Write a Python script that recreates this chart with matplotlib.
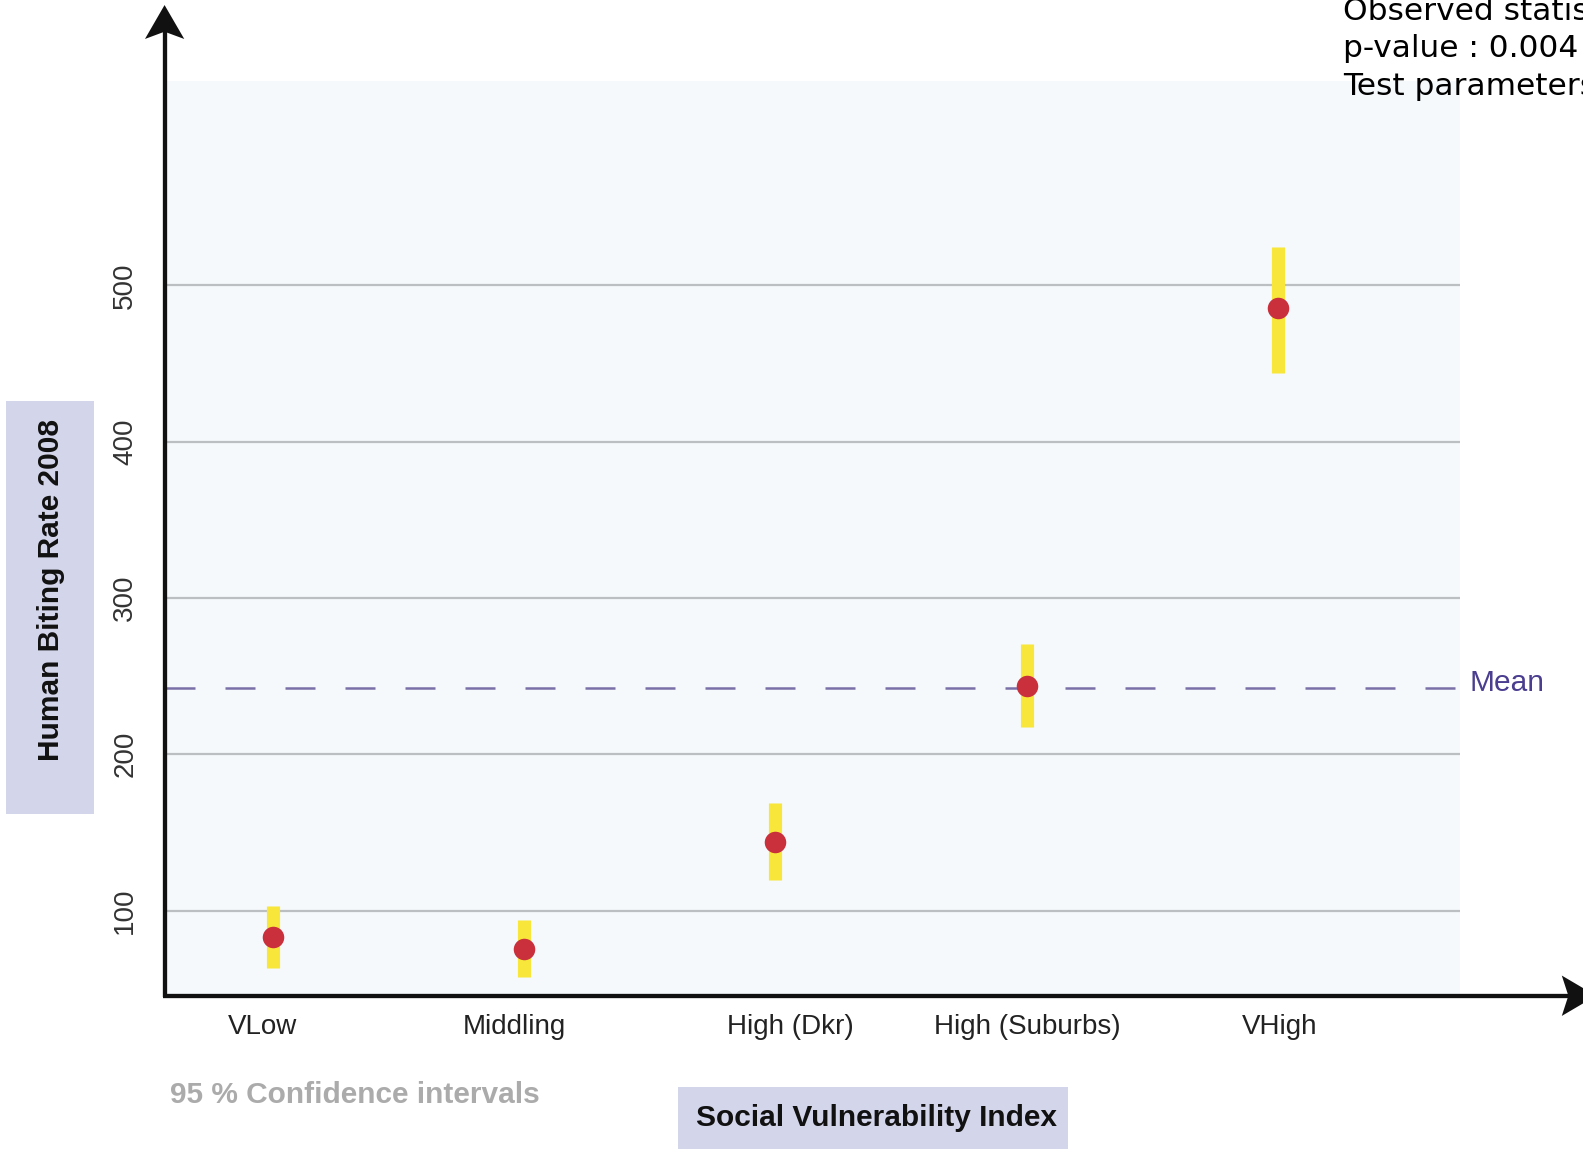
import matplotlib
matplotlib.use("Agg")
import matplotlib.pyplot as plt
import matplotlib.transforms as mtransforms
from matplotlib.patches import Rectangle, Polygon

plt.rcParams["font.family"] = ["Liberation Sans", "DejaVu Sans"]

# ---------------------------------------------------------------- data
categories = ["VLow", "Middling", "High (Dkr)", "High (Suburbs)", "VHigh"]
means = [83.3, 75.5, 143.9, 244.0, 485.7]
ci_low = [63.3, 57.4, 119.4, 217.5, 443.7]
ci_high = [103.2, 94.2, 169.1, 270.5, 524.3]
overall_mean = 242.7
yticks = [100, 200, 300, 400, 500]
stats_lines = ["Observed statistic", "p-value : 0.004", "Test parameters"]

# design units (the figure is 1583 x 1149 px, design canvas 1568 x 1138)
W, H = 1568.0, 1138.1
fig = plt.figure(figsize=(15.83, 11.49), dpi=100)

# ---------------------------------------------------------------- main axes
AX_L, AX_R, AX_T, AX_B = 163.0, 1580.0, 5.0, 986.3
ax = fig.add_axes([AX_L / W, 1 - AX_B / H, (AX_R - AX_L) / W, (AX_B - AX_T) / H])
ax.set_facecolor("none")
px_per_unit = 1.5485
YB = 100 - (AX_B - 902.0) / px_per_unit
YT = 100 + (902.0 - AX_T) / px_per_unit
BG_T = 100 + (902.0 - 80.0) / px_per_unit
dx = 248.8
XL = (AX_L - 270.4) / dx
XR = (AX_R - 270.4) / dx
BG_R = (1446.0 - 270.4) / dx
ax.set_xlim(XL, XR)
ax.set_ylim(YB, YT)
for s in ax.spines.values():
    s.set_visible(False)

ax.add_patch(Rectangle((XL, YB), BG_R - XL, BG_T - YB, color="#f5f9fc",
                       lw=0, zorder=0))
ax.hlines(yticks, XL, BG_R, color="#bcbfc2", lw=1.6, zorder=1)
ax.hlines(overall_mean, XL, BG_R, color="#7a70a8", lw=1.8,
          linestyles=(0, (12, 12)), zorder=2)
ax.text(BG_R + 0.04, overall_mean + 3, "Mean", fontsize=21.5, color="#4b3d8f",
        ha="left", va="center")

x = list(range(len(categories)))
ax.vlines(x, ci_low, ci_high, color="#f8e63a", lw=9.5, zorder=3,
          capstyle="butt")
ax.plot(x, means, "o", color="#c9303c", ms=15.5, mec="none", zorder=4)

ax.set_xticks(x)
ax.set_xticklabels(categories, fontsize=20, color="#222222")
ax.set_yticks(yticks)
ax.set_yticklabels([str(v) for v in yticks], fontsize=20, color="#333333",
                   rotation=90, va="center")
ax.tick_params(axis="x", length=0, pad=13)
ax.tick_params(axis="y", length=0, pad=19)
# the original labels sit a little off their category centres
for lab, off in zip(ax.get_xticklabels(), [-10, -10, 15, 1, 2]):
    lab.set_transform(lab.get_transform() +
                      mtransforms.ScaledTranslation(off / 100, 0,
                                                    fig.dpi_scale_trans))

# ---------------------------------------------------------------- overlay
ov = fig.add_axes([0, 0, 1, 1], zorder=5)
ov.set_xlim(0, W)
ov.set_ylim(H, 0)
ov.axis("off")

# axes lines with stealth arrow heads
ov.plot([163, 163], [988, 30], color="#111111", lw=3.1, solid_capstyle="butt")
ov.plot([161.5, 1556], [986.3, 986.3], color="#111111", lw=3.1,
        solid_capstyle="butt")
ov.add_patch(Polygon([(163, 5), (182.5, 38.6), (163, 31.4), (143.6, 38.6)],
                     closed=True, color="#111111", lw=0))
ov.add_patch(Polygon([(1581, 986.3), (1547, 1006.3), (1553.5, 986.3),
                      (1547, 966.3)], closed=True, color="#111111", lw=0))

LAV = "#d3d5ea"
ov.add_patch(Rectangle((6, 397), 87, 409, color=LAV, lw=0, zorder=0))
ov.text(51, 584, "Human Biting Rate 2008", rotation=90, fontsize=21.5,
        fontweight="bold", ha="center", va="center", color="#111111")
ov.add_patch(Rectangle((672, 1077), 386, 61, color=LAV, lw=0, zorder=0))
ov.text(868, 1107, "Social Vulnerability Index", fontsize=21.5,
        fontweight="bold", ha="center", va="center", color="#111111")
ov.text(168, 1085, "95 % Confidence intervals", fontsize=21.5,
        fontweight="bold", ha="left", va="center", color="#ababab")
# statistics block, cropped by the right edge as in the original
for i, s in enumerate(stats_lines):
    ov.text(1330, 11 + 37.5 * i, s, fontsize=22.5, family="DejaVu Sans",
            ha="left", va="center", color="black")

fig.savefig("out.png", dpi=100, facecolor="white")
